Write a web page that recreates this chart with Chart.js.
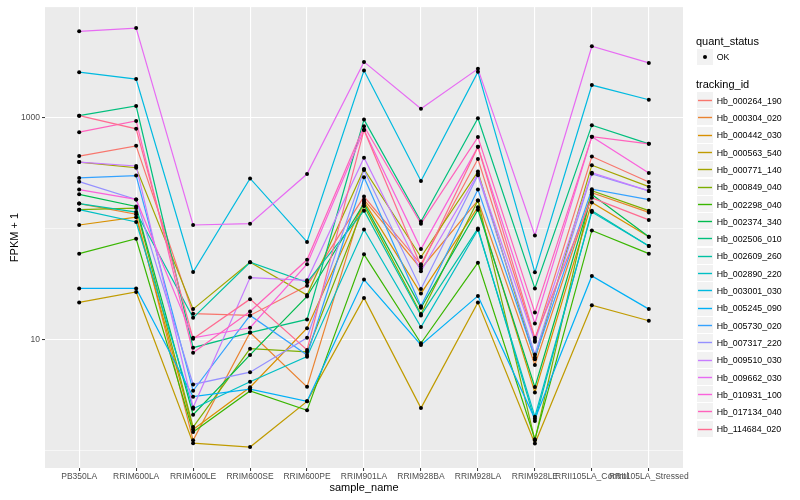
<!DOCTYPE html>
<html>
<head>
<meta charset="utf-8">
<script src="https://cdn.jsdelivr.net/npm/chart.js@4.4.1/dist/chart.umd.min.js"></script>
<style>
  html, body { margin: 0; padding: 0; background: #ffffff; }
  #wrap { position: relative; width: 800px; height: 500px; font-family: "Liberation Sans", Arial, sans-serif; }
  #c { position: absolute; left: 0; top: 0; }
  .lg { position: absolute; white-space: nowrap; color: #000; }
</style>
</head>
<body>
<div id="wrap">
  <canvas id="c" width="800" height="500" style="width:800px;height:500px"></canvas>
  <div id="legend"></div>
</div>
<script>
// ---- data ----
const categories = ['PB350LA','RRIM600LA','RRIM600LE','RRIM600SE','RRIM600PE','RRIM901LA','RRIM928BA','RRIM928LA','RRIM928LE','RRII105LA_Control','RRII105LA_Stressed'];

const trackingIds = ['Hb_000264_190','Hb_000304_020','Hb_000442_030','Hb_000563_540','Hb_000771_140','Hb_000849_040','Hb_002298_040','Hb_002374_340','Hb_002506_010','Hb_002609_260','Hb_002890_220','Hb_003001_030','Hb_005245_090','Hb_005730_020','Hb_007317_220','Hb_009510_030','Hb_009662_030','Hb_010931_100','Hb_017134_040','Hb_114684_020'];

const seriesColors = ['#F8766D','#EA8331','#D89000','#C09B00','#A3A500','#7CAE00','#39B600','#00BB4E','#00BF7D','#00C1A3','#00BFC4','#00BAE0','#00B0F6','#35A2FF','#9590FF','#C77CFF','#E76BF3','#FA62DB','#FF62BC','#FF6C91'];

const hb000264_190 = [447, 553, 17.0, 16.4, 30.4, 193, 47.4, 420, 9.86, 443, 261];
const hb000304_020 = [167, 134, 1.23, 11.5, 3.73, 181, 43.2, 178, 5.88, 209, 139];
const hb000442_030 = [107, 126, 1.54, 3.70, 12.6, 174, 25.8, 155, 3.32, 171, 83.9];
const hb000563_540 = [21.5, 26.7, 1.16, 1.07, 2.76, 23.6, 2.40, 21.5, 1.15, 20.3, 14.7];
const hb000771_140 = [395, 351, 18.7, 49.4, 25.0, 342, 55.1, 324, 6.62, 370, 237];
const hb000849_040 = [147, 152, 1.62, 8.24, 7.69, 159, 16.9, 178, 1.23, 218, 144];
const hb002298_040 = [59.1, 80.5, 1.46, 3.42, 2.29, 58.2, 9.21, 49.0, 1.26, 95.6, 59.1];
const hb002374_340 = [202, 157, 2.09, 7.23, 24.3, 167, 19.2, 147, 3.71, 201, 83.9];
const hb002506_010 = [1033, 1263, 8.41, 11.5, 15.1, 952, 115, 980, 28.7, 849, 576];
const hb002609_260 = [167, 140, 15.6, 49.4, 32.6, 144, 16.4, 99.6, 1.84, 144, 69.1];
const hb002890_220 = [147, 114, 2.37, 4.14, 6.98, 97.5, 12.9, 96.9, 2.01, 140, 69.1];
const hb003001_030 = [2549, 2205, 40.4, 281, 75.4, 2639, 267, 2564, 40.1, 1948, 1438];
const hb005245_090 = [28.7, 28.7, 3.04, 3.56, 2.76, 34.5, 8.89, 24.6, 1.92, 37.2, 18.7];
const hb005730_020 = [284, 298, 3.44, 16.4, 7.23, 288, 19.8, 223, 6.84, 225, 181];
const hb007317_220 = [263, 182, 3.92, 5.06, 10.3, 335, 28.4, 301, 7.31, 309, 217];
const hb009510_030 = [395, 364, 2.43, 36.0, 34.0, 432, 41.0, 310, 9.52, 317, 217];
const hb009662_030 = [5940, 6360, 107, 110, 308, 3153, 1194, 2728, 86.2, 4360, 3088];
const hb010931_100 = [223, 182, 10.3, 12.7, 47.4, 769, 64.9, 541, 13.9, 669, 315];
const hb017134_040 = [734, 926, 7.58, 17.8, 52.0, 830, 110, 663, 17.4, 669, 576];
const hb114684_020 = [1033, 786, 10.1, 23.0, 8.02, 769, 45.4, 541, 10.3, 188, 119];

const seriesValues = [hb000264_190, hb000304_020, hb000442_030, hb000563_540, hb000771_140, hb000849_040, hb002298_040, hb002374_340, hb002506_010, hb002609_260, hb002890_220, hb003001_030, hb005245_090, hb005730_020, hb007317_220, hb009510_030, hb009662_030, hb010931_100, hb017134_040, hb114684_020];

const yGridValues = [1, 10, 100, 1000];
const yTickLabels = {10: '10', 1000: '1000'};
const statusLabels = ['OK'];

// ---- chart ----
const FONT = '"Liberation Sans", Arial, sans-serif';
const toPoints = vals => vals.map((v, i) => ({x: i + 1, y: v}));

const datasets = [];
seriesValues.forEach((vals, i) => {
  datasets.push({
    label: trackingIds[i],
    data: toPoints(vals),
    borderColor: seriesColors[i],
    borderWidth: 1.2,
    pointRadius: 0,
    fill: false,
    tension: 0,
    order: 100 - i
  });
});
seriesValues.forEach((vals, i) => {
  datasets.push({
    label: trackingIds[i] + ' pts',
    data: toPoints(vals),
    showLine: false,
    pointRadius: 2,
    pointBackgroundColor: '#000000',
    pointBorderColor: '#000000',
    pointBorderWidth: 0,
    order: 0
  });
});

const panelBg = {
  id: 'panelBg',
  beforeDraw(chart) {
    const {ctx, chartArea: a} = chart;
    ctx.save();
    ctx.fillStyle = '#EBEBEB';
    ctx.fillRect(a.left, a.top, a.right - a.left, a.bottom - a.top);
    ctx.restore();
  }
};

new Chart(document.getElementById('c'), {
  type: 'line',
  data: { datasets },
  plugins: [panelBg],
  options: {
    responsive: false,
    animation: false,
    layout: { padding: { top: 5, right: 117, left: 0, bottom: 0 } },
    plugins: { legend: { display: false }, tooltip: { enabled: false } },
    scales: {
      x: {
        type: 'linear',
        min: 0.4,
        max: 11.6,
        afterBuildTicks: s => { s.ticks = categories.map((c, i) => ({value: i + 1})); },
        afterFit: s => { s.height = 32; },
        border: { display: false },
        grid: { color: '#FFFFFF', lineWidth: 1.1, drawTicks: true, tickLength: 3, tickColor: '#333333', tickWidth: 1 },
        ticks: {
          autoSkip: false, maxRotation: 0, minRotation: 0, padding: 1,
          color: '#4D4D4D', font: { family: FONT, size: 8.5 },
          callback: v => categories[Math.round(v) - 1] || ''
        },
        title: { display: true, text: 'sample_name', color: '#000000', font: { family: FONT, size: 11 }, padding: { top: 0, bottom: 5 } }
      },
      y: {
        type: 'logarithmic',
        min: 0.693,
        max: 9820,
        afterBuildTicks: s => { s.ticks = yGridValues.map(v => ({value: v})); },
        afterFit: s => { s.width = 45; },
        border: { display: false },
        grid: {
          color: '#FFFFFF',
          lineWidth: c => (c.tick && yTickLabels[c.tick.value]) ? 1.1 : 0.55,
          drawTicks: true, tickLength: 3,
          tickColor: c => (c.tick && yTickLabels[c.tick.value]) ? '#333333' : 'rgba(0,0,0,0)',
          tickWidth: 1
        },
        ticks: {
          autoSkip: false, padding: 2,
          color: '#4D4D4D', font: { family: FONT, size: 8.5 },
          callback: v => yTickLabels[v] || ''
        },
        title: { display: true, text: 'FPKM + 1', color: '#000000', font: { family: FONT, size: 11 }, padding: { top: 8, bottom: 0 } }
      }
    }
  }
});

// ---- legend (HTML text + SVG keys) ----
const lg = document.getElementById('legend');
const SVGNS = 'http://www.w3.org/2000/svg';
function addText(txt, left, cy, size) {
  const d = document.createElement('div');
  d.className = 'lg';
  d.textContent = txt;
  d.style.left = left + 'px';
  d.style.top = Math.round(cy - 8) + 'px';
  d.style.height = '16px';
  d.style.lineHeight = '16px';
  d.style.fontSize = size + 'px';
  lg.appendChild(d);
}
function addKey(left, top, w, h) {
  const s = document.createElementNS(SVGNS, 'svg');
  s.setAttribute('width', w); s.setAttribute('height', h);
  s.style.position = 'absolute';
  s.style.left = left + 'px'; s.style.top = top + 'px';
  const r = document.createElementNS(SVGNS, 'rect');
  r.setAttribute('x', 0); r.setAttribute('y', 0);
  r.setAttribute('width', w); r.setAttribute('height', h);
  r.setAttribute('fill', '#F2F2F2');
  s.appendChild(r);
  lg.appendChild(s);
  return s;
}
addText('quant_status', 696, 40.7, 11);
statusLabels.forEach((s, i) => {
  const cy = 57 + i * 17;
  const k = addKey(697, Math.round(cy - 8), 16, 16);
  const c = document.createElementNS(SVGNS, 'circle');
  c.setAttribute('cx', 8); c.setAttribute('cy', 8); c.setAttribute('r', 2);
  c.setAttribute('fill', '#000');
  k.appendChild(c);
  addText(s, 716.7, cy, 8.8);
});
addText('tracking_id', 696, 84.3, 11);
trackingIds.forEach((id, i) => {
  const cy = 100.7 + i * 17.3;
  const top = Math.round(cy - 8.65);
  const k = addKey(697, top, 16, 16);
  const l = document.createElementNS(SVGNS, 'line');
  l.setAttribute('x1', 1); l.setAttribute('x2', 15);
  l.setAttribute('y1', 8.5); l.setAttribute('y2', 8.5);
  l.setAttribute('stroke', seriesColors[i]);
  l.setAttribute('stroke-width', 1.4);
  k.appendChild(l);
  addText(id, 716.7, cy, 8.8);
});
</script>
</body>
</html>
